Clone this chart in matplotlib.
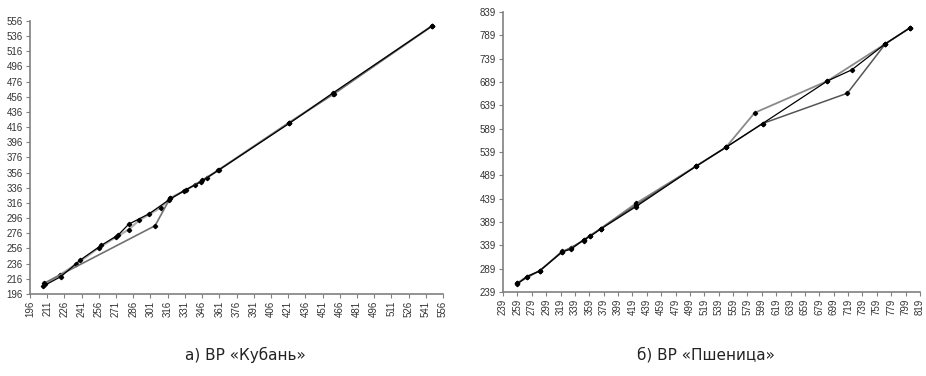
import matplotlib
matplotlib.use("Agg")
import matplotlib.pyplot as plt
import numpy as np

# а) ВР «Кубань» - three series (x, y)
kub1_x = [207, 223, 240, 258, 273, 282, 300, 317, 330, 345, 360, 422, 460, 546]
kub1_y = [206, 219, 241, 260, 274, 288, 302, 320, 332, 344, 359, 421, 461, 549]
kub2_x = [208, 305, 318, 332, 346, 361, 422, 461, 546]
kub2_y = [210, 286, 322, 333, 346, 360, 422, 460, 549]
kub3_x = [209, 222, 236, 256, 271, 282, 291, 310, 318, 340, 350, 422, 460, 546]
kub3_y = [209, 221, 235, 257, 271, 281, 293, 310, 322, 340, 349, 422, 460, 549]

# б) ВР «Пшеница»
psh1_x = [259, 272, 290, 321, 334, 351, 360, 375, 424, 508, 549, 589, 690, 771, 805]
psh1_y = [258, 272, 284, 326, 333, 350, 360, 375, 429, 509, 549, 623, 691, 771, 805]
psh2_x = [259, 272, 290, 321, 334, 351, 360, 375, 424, 508, 549, 600, 690, 724, 771, 805]
psh2_y = [256, 272, 284, 325, 331, 351, 358, 374, 422, 509, 549, 600, 691, 715, 771, 805]
psh3_x = [259, 290, 321, 351, 375, 424, 508, 549, 600, 718, 771, 805]
psh3_y = [258, 285, 324, 349, 375, 425, 509, 549, 600, 665, 771, 805]

kub_xticks = np.arange(196, 557, 15)
kub_yticks = np.arange(196, 557, 20)
psh_xticks = np.arange(239, 820, 20)
psh_yticks = np.arange(239, 840, 50)

plt.rcParams['font.family'] = ['Liberation Sans', 'DejaVu Sans']

fig = plt.figure(figsize=(9.26, 3.76), dpi=100)
ax1 = fig.add_axes([30 / 926, 82 / 376, 413 / 926, 273 / 376])
ax2 = fig.add_axes([503 / 926, 84 / 376, 417 / 926, 280 / 376])


def style(ax, xt, yt):
    ax.set_xlim(xt[0], xt[-1])
    ax.set_ylim(yt[0], yt[-1])
    ax.set_xticks(xt)
    ax.set_yticks(yt)
    ax.set_xticklabels([str(v) for v in xt], rotation=90, fontsize=7, color='#333333')
    ax.set_yticklabels([str(v) for v in yt], fontsize=7, color='#333333')
    for s in ['top', 'right']:
        ax.spines[s].set_visible(False)
    for s in ['left', 'bottom']:
        ax.spines[s].set_color('#808080')
        ax.spines[s].set_linewidth(1.2)
    ax.tick_params(length=3, width=0.8, color='#808080', pad=2)


mk = dict(marker='D', markersize=2.2, markerfacecolor='black', markeredgecolor='black')

ax1.plot(kub3_x, kub3_y, color='#b0b0b0', lw=1.6, **mk)
ax1.plot(kub2_x, kub2_y, color='#707070', lw=1.2, **mk)
ax1.plot(kub1_x, kub1_y, color='black', lw=0.9, **mk)
style(ax1, kub_xticks, kub_yticks)

ax2.plot(psh1_x, psh1_y, color='#8a8a8a', lw=1.3, **mk)
ax2.plot(psh3_x, psh3_y, color='#555555', lw=1.1, **mk)
ax2.plot(psh2_x, psh2_y, color='black', lw=0.9, **mk)
style(ax2, psh_xticks, psh_yticks)

fig.text(245 / 926, 1 - 355 / 376, 'а) ВР «Кубань»', ha='center', va='center',
         fontsize=11, family=['DejaVu Sans'], color='#222222')
fig.text(706 / 926, 1 - 355 / 376, 'б) ВР «Пшеница»', ha='center', va='center',
         fontsize=11, family=['DejaVu Sans'], color='#222222')

fig.savefig('out.png', dpi=100)
